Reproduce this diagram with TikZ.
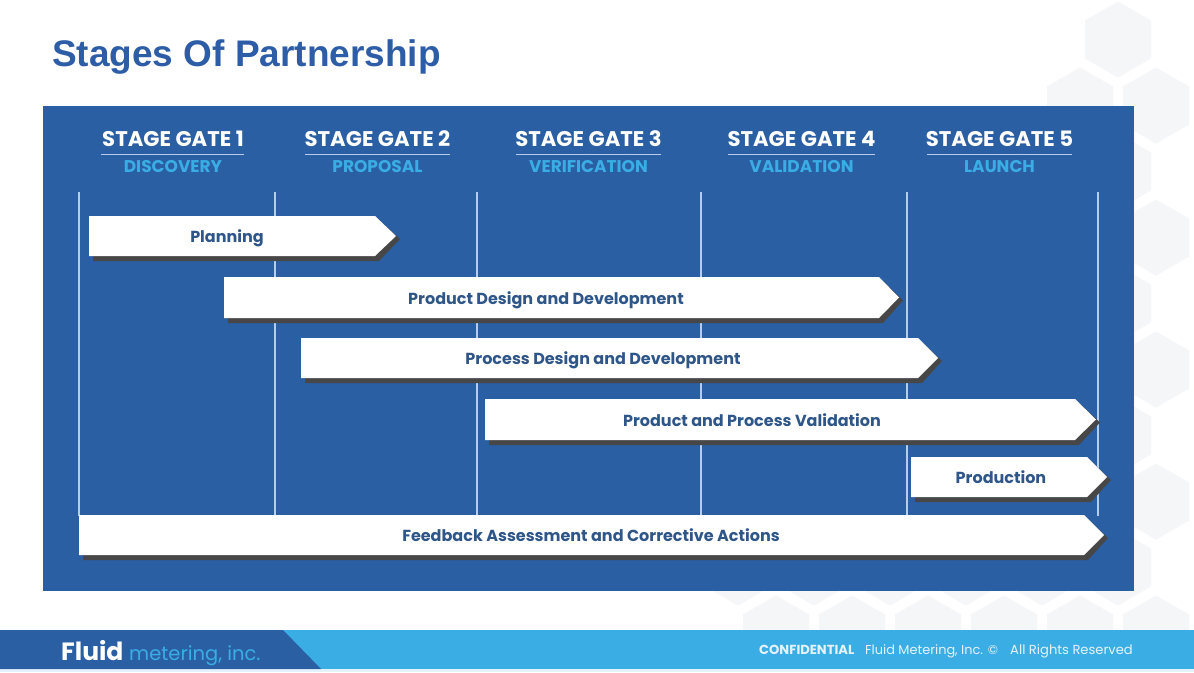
\documentclass[tikz,border=0pt]{standalone}
\usepackage{fontspec}
\setmainfont{Liberation Sans}
\newfontfamily\popf{Poppins}
\usetikzlibrary{shapes.geometric}
\definecolor{panelblue}{HTML}{2A5FA3}
\definecolor{skyblue}{HTML}{3AADE4}
\definecolor{titleblue}{HTML}{2C5DA6}
\definecolor{hexgrey}{HTML}{F5F6F8}
\definecolor{rulelight}{HTML}{B5CDEB}
\definecolor{shadowgrey}{HTML}{474747}
\definecolor{labelblue}{HTML}{2F5688}
\definecolor{footlight}{HTML}{E4F3FB}
\tikzset{
  x=1pt,y=-1pt,
  hexcell/.style={fill=hexgrey,draw=none},
  gatehead/.style={font=\popf\bfseries\fontsize{21.2}{24}\selectfont,text=white,inner sep=0pt,anchor=base},
  gatesub/.style={font=\popf\bfseries\fontsize{17}{20}\selectfont,text=skyblue,inner sep=0pt,anchor=base},
  gaterule/.style={draw=rulelight,line width=1.8pt},
  stageline/.style={draw=rulelight,line width=1.3pt},
  barbody/.style={fill=white,draw=none},
  barshadow/.style={fill=shadowgrey,draw=none},
  barlabel/.style={font=\popf\bfseries\fontsize{16}{19}\selectfont,text=labelblue,inner sep=0pt,anchor=base},
}
% centre x, centre y
\newcommand{\hexat}[2]{\fill[hexcell] (#1,#2-38) -- (#1+33,#2-19) -- (#1+33,#2+19) -- (#1,#2+38) -- (#1-33,#2+19) -- (#1-33,#2-19) -- cycle;}
% name, x1, tipstart, x2, ytop, ybot, textx, label
\newcommand{\stagebar}[8]{%
  \fill[barshadow] (#2+4,#5+4) -- (#3+4,#5+4) -- (#4+4,#5/2+#6/2+3) -- (#3+4,#6+5) -- (#2+4,#6+5) -- cycle;
  \fill[barbody] (#2,#5) -- (#3,#5) -- (#4,#5/2+#6/2) -- (#3,#6) -- (#2,#6) -- cycle;
  \node[barlabel] (#1) at (#7,#5/2+#6/2+6.5) {#8};
}
% name, centre x, rule x1, rule x2, head, sub
\newcommand{\gatehdr}[6]{%
  \node[gatehead] (#1h) at (#2,146) {#5};
  \draw[gaterule] (#3,154.5) -- (#4,154.5);
  \node[gatesub] (#1s) at (#2,172) {#6};
}
\begin{document}
\begin{tikzpicture}
\useasboundingbox (0,0) rectangle (1194,672);
\fill[white] (0,0) rectangle (1194,672);
% hexagon background
\foreach \hx/\hy in {1118/39.5,1156/105.5,1080/105.5,1118/171.5,1156/237.5,1118/303.5,1156/369.5,1118/435.5,1156/501.5,1118/567.5,1042/567.5,966/567.5,890/567.5,814/567.5,738/567.5,1156/633.5,1080/633.5,1004/633.5,928/633.5,852/633.5,776/633.5}
  {\hexat{\hx}{\hy}}
% title
\node[font=\bfseries\fontsize{37}{42}\selectfont,text=titleblue,inner sep=0pt,anchor=base west] (title) at (52,66) {Stages Of Partnership};
% panel
\fill[panelblue] (43,106) rectangle (1134,591);
% stage lines
\foreach \sx in {79,275,477,701,907,1098}
  {\draw[stageline] (\sx,192) -- (\sx,516);}
% headers
\gatehdr{g1}{173}{101}{244}{STAGE GATE 1}{DISCOVERY}
\gatehdr{g2}{377.5}{305}{450}{STAGE GATE 2}{PROPOSAL}
\gatehdr{g3}{588.5}{516}{661}{STAGE GATE 3}{VERIFICATION}
\gatehdr{g4}{801.5}{728}{875}{STAGE GATE 4}{VALIDATION}
\gatehdr{g5}{999.5}{927}{1072}{STAGE GATE 5}{LAUNCH}
% bars
\stagebar{planning}{89}{375}{396}{216}{256}{227}{Planning}
\stagebar{pdesign}{224}{879}{899}{277}{318}{546}{Product Design and Development}
\stagebar{procdesign}{301}{918}{938}{338}{378}{603}{Process Design and Development}
\stagebar{validation}{485}{1075}{1096}{399}{440}{752}{Product and Process Validation}
\stagebar{production}{911}{1087}{1107}{457}{497}{1001}{Production}
\stagebar{feedback}{79}{1084}{1104}{515}{555}{591}{Feedback Assessment and Corrective Actions}
% footer
\fill[footlight] (0,669) rectangle (1194,672);
\fill[skyblue] (0,630) rectangle (1194,669);
\fill[panelblue] (0,630) -- (283,630) -- (321,669) -- (0,669) -- cycle;
\node[font=\popf\bfseries\fontsize{25}{28}\selectfont,text=white,inner sep=0pt,anchor=base west] (logoa) at (61,660) {Fluid};
\node[font=\popf\fontsize{19.5}{22}\selectfont,text=skyblue,inner sep=0pt,anchor=base west] (logob) at (129,660) {metering, inc.};
\node[font=\popf\bfseries\fontsize{13.1}{15}\selectfont,text=footlight,inner sep=0pt,anchor=base west] (conf) at (759,654) {CONFIDENTIAL};
\node[font=\popf\fontsize{12.9}{15}\selectfont,text=footlight,inner sep=0pt,anchor=base west] (fmi) at (865,654) {Fluid Metering, Inc. ©};
\node[font=\popf\fontsize{13.1}{15}\selectfont,text=footlight,inner sep=0pt,anchor=base west] (arr) at (1010,654) {All Rights Reserved};
\end{tikzpicture}
\end{document}
